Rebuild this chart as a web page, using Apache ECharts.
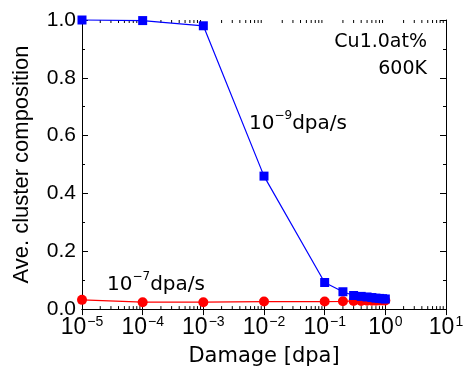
<!DOCTYPE html>
<html><head><meta charset="utf-8">
<script src="https://cdn.jsdelivr.net/npm/echarts@6/dist/echarts.min.js"></script>
<style>html,body{margin:0;padding:0;background:#fff}#c{width:468px;height:372px}</style>
</head><body><div id="c"></div>
<script>
const damage = [1e-5, 1e-4, 1e-3, 1e-2, 0.1, 0.2, 0.3, 0.4, 0.5, 0.6, 0.7, 0.8, 0.9, 1.0];
const rate9 = [1.0, 0.998, 0.98, 0.46, 0.092, 0.060, 0.047, 0.044, 0.042, 0.040, 0.038, 0.037, 0.036, 0.035];
const rate7 = [0.032, 0.024, 0.024, 0.026, 0.026, 0.027, 0.028, 0.028, 0.029, 0.029, 0.029, 0.030, 0.030, 0.030];
const yTicks = [0, 0.2, 0.4, 0.6, 0.8, 1.0];
const xExponents = [-5, -4, -3, -2, -1, 0, 1];

const minorX = [];
for (let e = -5; e < 1; e++) for (let m = 2; m <= 9; m++) minorX.push([m * Math.pow(10, e)]);

const numFont = 'Liberation Sans';
const narrowFont = '"Liberation Sans Narrow", "Liberation Sans"';
const jpFont = 'DejaVu Sans';

function expLabel(v) {
  const e = Math.round(Math.log10(v));
  return '{b|10}{s|' + (e < 0 ? '−' + (-e) : String(e)) + '}';
}

const chart = echarts.init(document.getElementById('c'));
const xBase = {
  type: 'log', logBase: 10, min: 1e-5, max: 10,
  axisLine: {lineStyle: {color: '#000', width: 1}},
  axisTick: {inside: true, length: 6, lineStyle: {color: '#000'}},
  splitLine: {show: false},
  minorTick: {show: false}
};
const yBase = {
  type: 'value', min: 0, max: 1, interval: 0.2,
  axisLine: {show: true, lineStyle: {color: '#000', width: 1}},
  axisTick: {inside: true, length: 6, lineStyle: {color: '#000'}},
  minorTick: {show: true, splitNumber: 2, length: 3, lineStyle: {color: '#000'}},
  splitLine: {show: false}
};
const annRich = {
  b: {fontFamily: jpFont, fontSize: 20, fill: '#000', verticalAlign: 'bottom', lineHeight: 24},
  s: {fontFamily: jpFont, fontSize: 12, fill: '#000', verticalAlign: 'top', lineHeight: 24, padding: [0, 0, 11, 0]}
};
chart.setOption({
  animation: false,
  grid: {left: 82, right: 22, top: 20, bottom: 59, containLabel: false},
  xAxis: [
    Object.assign({}, xBase, {
      position: 'bottom',
      name: 'Damage [dpa]', nameLocation: 'middle', nameGap: 32,
      nameTextStyle: {fontFamily: jpFont, fontSize: 21, color: '#000'},
      axisLabel: {
        margin: 6,
        formatter: expLabel,
        rich: {
          b: {fontFamily: narrowFont, fontSize: 23, color: '#000', verticalAlign: 'bottom', lineHeight: 24},
          s: {fontFamily: narrowFont, fontSize: 14, color: '#000', verticalAlign: 'top', lineHeight: 24, padding: [0, 0, 12, 1]}
        }
      }
    }),
    Object.assign({}, xBase, {position: 'top', axisLabel: {show: false}})
  ],
  yAxis: [
    Object.assign({}, yBase, {
      position: 'left',
      name: 'Ave. cluster composition', nameLocation: 'middle', nameGap: 49,
      nameTextStyle: {fontFamily: numFont, fontSize: 22, color: '#000'},
      axisLabel: {margin: 6, fontFamily: numFont, fontSize: 21, color: '#000', formatter: v => v.toFixed(1)}
    }),
    Object.assign({}, yBase, {position: 'right', axisLabel: {show: false}})
  ],
  graphic: [
    {type: 'text', right: 41, top: 33, style: {text: 'Cu1.0at%', font: '19px "DejaVu Sans"', fill: '#000', textAlign: 'right'}},
    {type: 'text', right: 41, top: 60, style: {text: '600K', font: '19px "DejaVu Sans"', fill: '#000', textAlign: 'right'}},
    {type: 'text', left: 249, top: 110, style: {text: '{b|10}{s|−9}{b|dpa/s}', rich: annRich}},
    {type: 'text', left: 107, top: 271, style: {text: '{b|10}{s|−7}{b|dpa/s}', rich: annRich}}
  ],
  series: [
    {
      type: 'custom', xAxisIndex: 0, yAxisIndex: 0, silent: true, clip: false,
      data: minorX,
      renderItem: (params, api) => {
        const b = api.coord([api.value(0), 0]);
        const t = api.coord([api.value(0), 1]);
        return {type: 'group', children: [
          {type: 'line', shape: {x1: b[0], y1: b[1], x2: b[0], y2: b[1] - 3}, style: {stroke: '#000', lineWidth: 1}},
          {type: 'line', shape: {x1: t[0], y1: t[1], x2: t[0], y2: t[1] + 3}, style: {stroke: '#000', lineWidth: 1}}
        ]};
      }
    },
    {
      name: '1e-7', type: 'line', xAxisIndex: 0, yAxisIndex: 0,
      data: damage.map((d, i) => [d, rate7[i]]),
      symbol: 'circle', symbolSize: 10, clip: false,
      lineStyle: {color: '#ff0000', width: 1.2},
      itemStyle: {color: '#ff0000'}
    },
    {
      name: '1e-9', type: 'line', xAxisIndex: 0, yAxisIndex: 0,
      data: damage.map((d, i) => [d, rate9[i]]),
      symbol: 'rect', symbolSize: 9, clip: false,
      lineStyle: {color: '#0000ff', width: 1.2},
      itemStyle: {color: '#0000ff'}
    }
  ]
});
</script></body></html>
